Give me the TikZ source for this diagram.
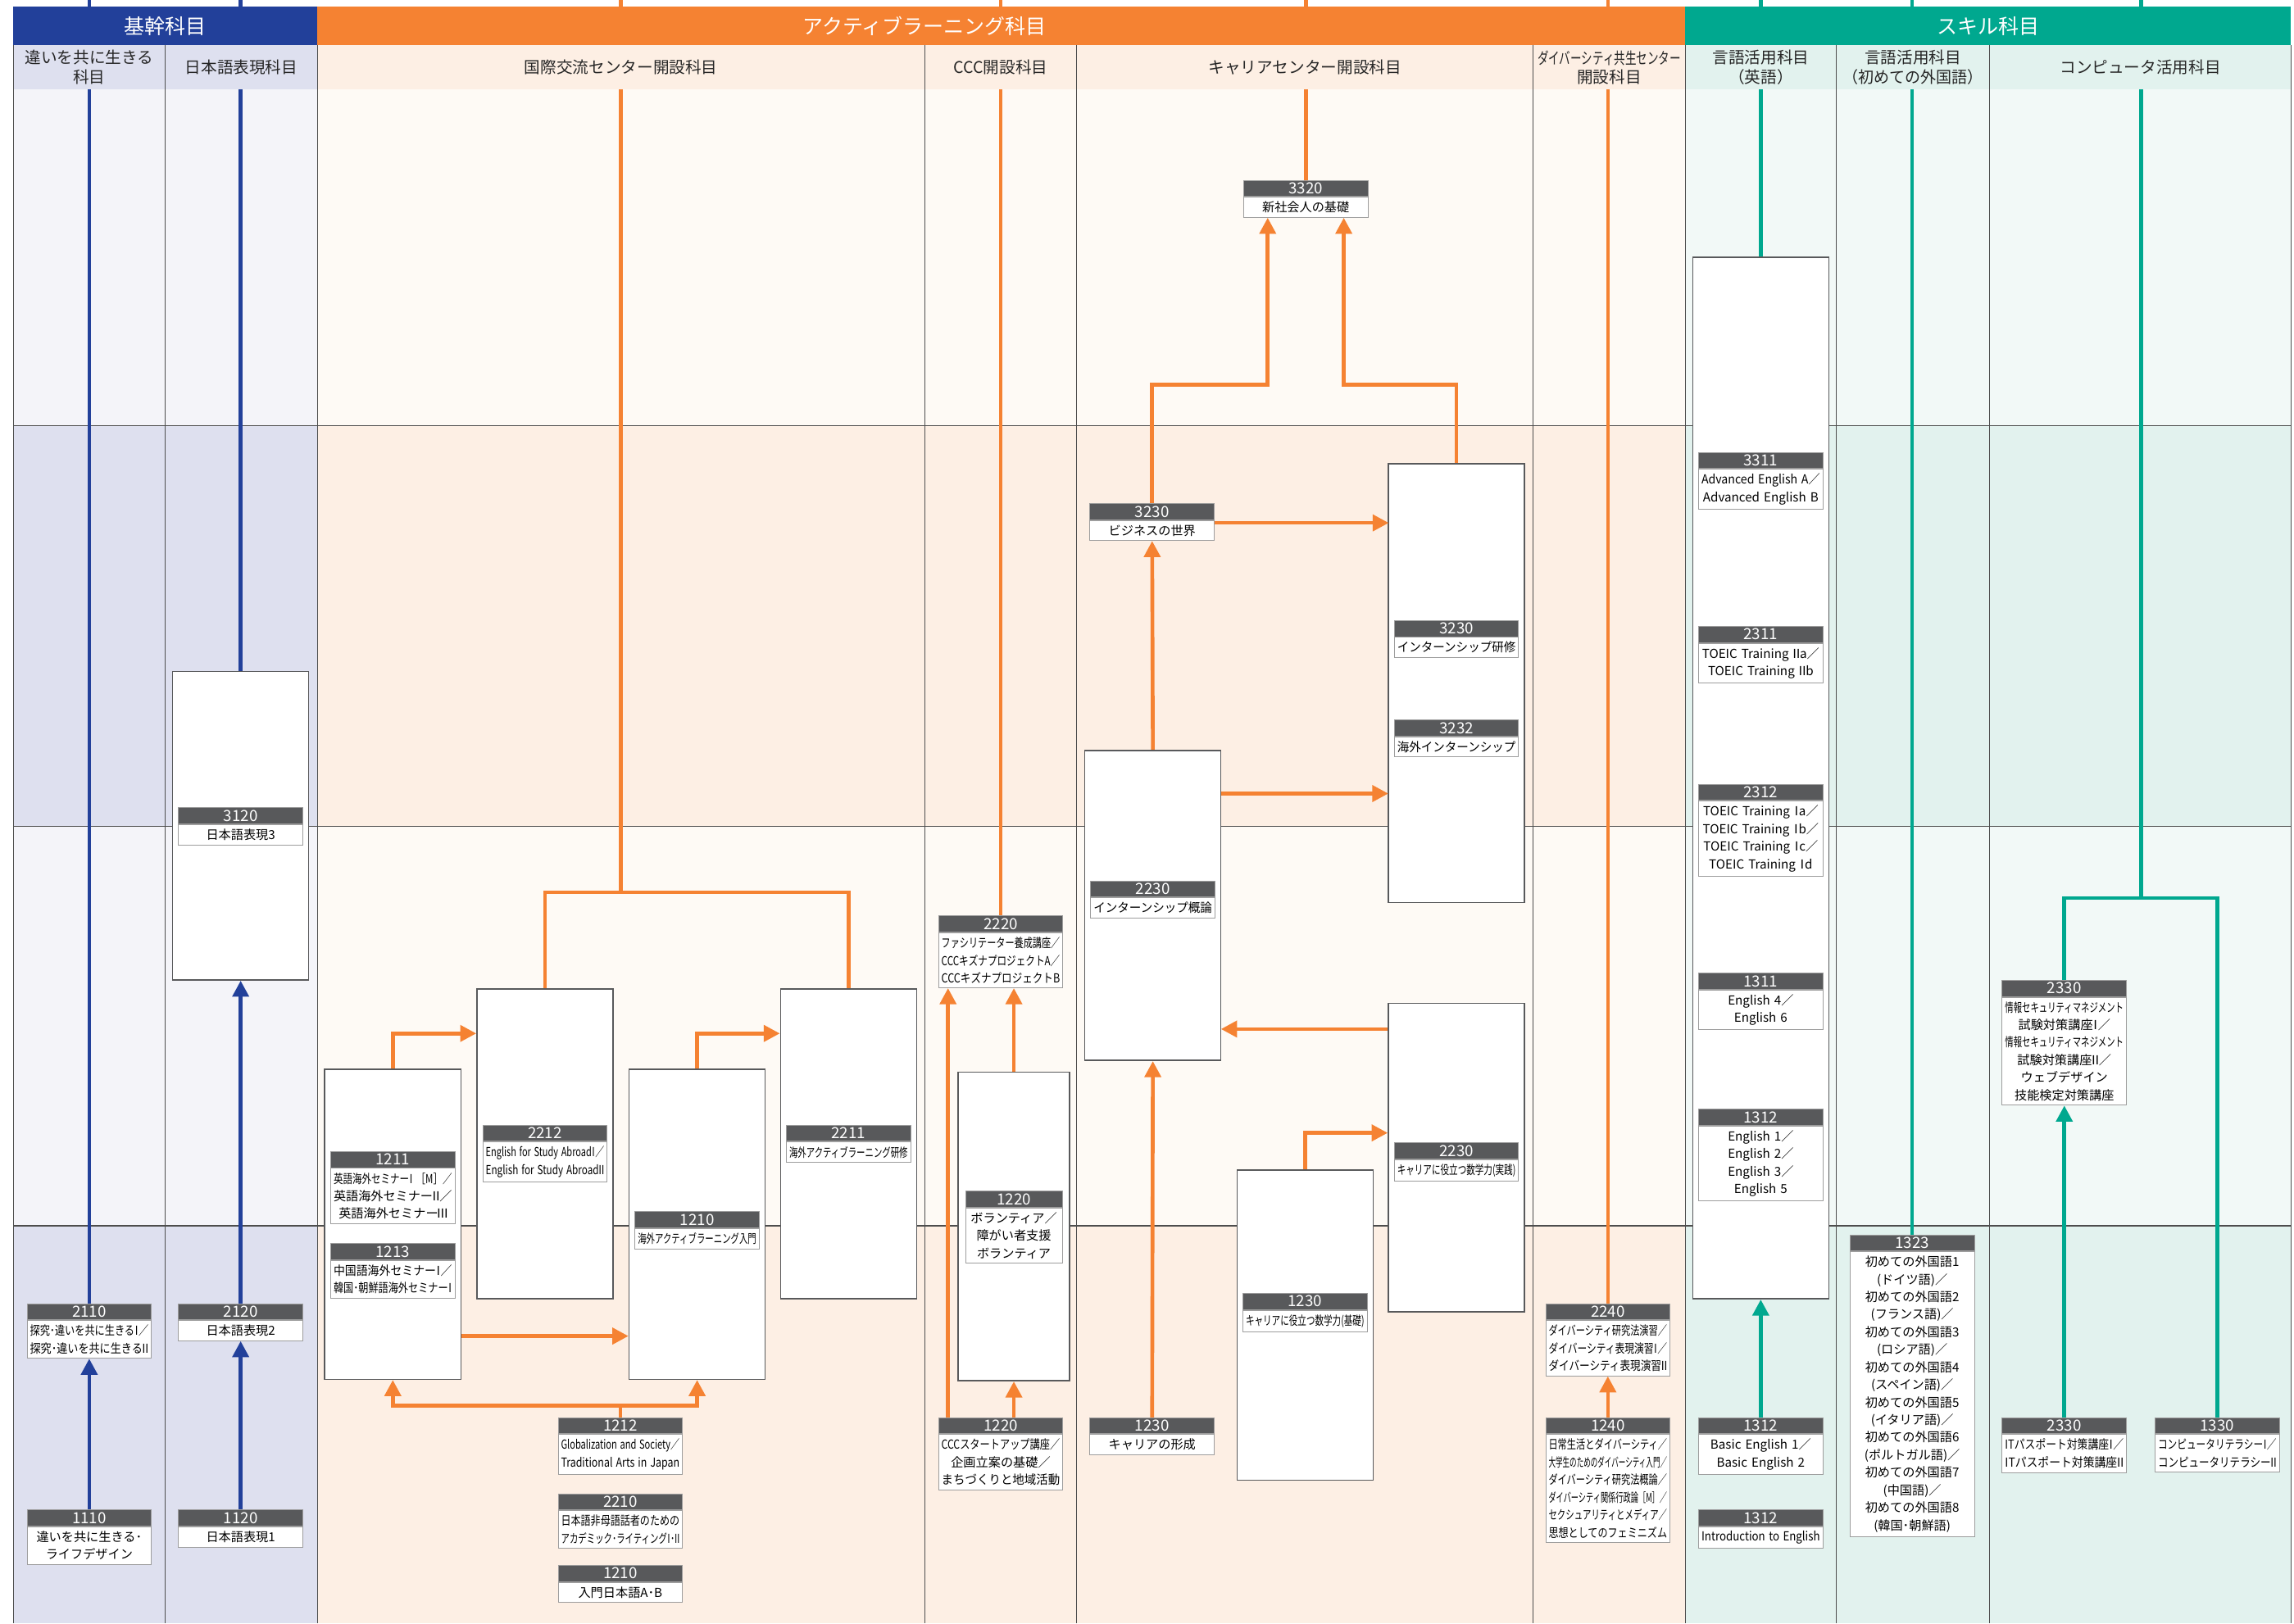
\documentclass[tikz,border=0pt]{standalone}
\usepackage{fontspec}
\setmainfont{Noto Sans CJK JP}
\usepackage{graphicx}
\usetikzlibrary{positioning,arrows.meta,calc}

\definecolor{kblue}{HTML}{22409A}
\definecolor{korange}{HTML}{F58232}
\definecolor{kteal}{HTML}{00A88F}
\definecolor{numgray}{HTML}{58595B}
\definecolor{boxgray}{HTML}{58595B}
\definecolor{lblgray}{HTML}{9D9D9D}
\definecolor{gridgray}{HTML}{4D4D4D}
\definecolor{kbD}{HTML}{DEE0EF}
\definecolor{kbL}{HTML}{F4F4F9}
\definecolor{orD}{HTML}{FDEFE4}
\definecolor{orL}{HTML}{FEFAF5}
\definecolor{tlD}{HTML}{E2F2EE}
\definecolor{tlL}{HTML}{F2F9F7}

\newsavebox\flbox
\newcommand\fl[2][81pt]{\sbox\flbox{#2}\ifdim\wd\flbox>#1\relax\resizebox{#1}{\height}{\usebox\flbox}\else\usebox\flbox\fi}
\newcommand\rI{\kern-.3em Ⅰ\kern-.3em}
\newcommand\rII{\kern-.22em Ⅱ\kern-.22em}
\newcommand\rIII{\kern-.15em Ⅲ\kern-.15em}

\begin{document}
\begin{tikzpicture}[x=1pt, y=-1pt,
    outer/.style={draw=boxgray, fill=white, line width=0.9pt, inner sep=0pt, minimum width=93pt, minimum height=212pt},
    num/.style={draw=lblgray, fill=numgray, text=white, line width=0.5pt, minimum width=85pt, minimum height=11pt, inner sep=0pt, anchor=north, font=\fontsize{10.5}{11}\selectfont},
    txt/.style={draw=lblgray, fill=white, line width=0.5pt, text width=82pt, align=center, inner xsep=1.5pt, inner ysep=3pt, font=\fontsize{8.5}{12}\selectfont},
    cat/.style={text=white, minimum height=26.5pt, inner sep=0pt, font=\fontsize{14}{14}\selectfont},
    sub/.style={text=black!85, align=center, inner sep=0pt, font=\fontsize{11}{13}\selectfont},
    kline/.style={line width=2.6pt, draw=kblue},
    oline/.style={line width=2.6pt, draw=korange},
    tline/.style={line width=2.6pt, draw=kteal},
    arr/.style={-{Triangle[width=11pt,length=11pt]}}
]
    \useasboundingbox (0,0) rectangle (1568,1110);
    \foreach \xa/\xb/\cl/\cd in {9/217/kbL/kbD, 217/1152/orL/orD, 1152/1566/tlL/tlD} {
        \fill[\cl] (\xa,61) rectangle (\xb,291);
        \fill[\cd] (\xa,291) rectangle (\xb,565);
        \fill[\cl] (\xa,565) rectangle (\xb,838);
        \fill[\cd] (\xa,838) rectangle (\xb,1110);
    }
    \foreach \gy in {291,565,838}
        \draw[gridgray, line width=0.7pt] (9,\gy) -- (1566,\gy);

    \node (bx3120) [outer, minimum height=211pt] at (164.5,564.5) {};
    \node (bxA) [outer] at (268.5,837) {};
    \node (bxB) [outer] at (372.5,782) {};
    \node (bxC) [outer] at (476.5,837) {};
    \node (bxD) [outer] at (580,782) {};
    \node (bxE) [outer, minimum width=76pt, minimum height=211pt] at (693,838.5) {};
    \node (bxF) [outer, minimum height=300pt] at (995.5,467) {};
    \node (bxG) [outer] at (788,619) {};
    \node (bxH) [outer, minimum height=211pt] at (995.5,791.5) {};
    \node (bxI) [outer] at (892,906) {};
    \node (bxJ) [outer, minimum height=712pt] at (1203.5,532) {};

    \node (n2110) [num] at (61,891) {2110};
    \node (t2110) [txt, below=0pt of n2110] {\fl{探究･違いを共に生きる\rI／}\\\fl{探究･違いを共に生きる\rII}};
    \node (n1110) [num] at (61,1032) {1110};
    \node (t1110) [txt, below=0pt of n1110] {違いを共に生きる･\\ライフデザイン};
    \node (n3120) [num] at (164.5,552) {3120};
    \node (t3120) [txt, below=0pt of n3120] {日本語表現3};
    \node (n2120) [num] at (164.5,891) {2120};
    \node (t2120) [txt, below=0pt of n2120] {日本語表現2};
    \node (n1120) [num] at (164.5,1032) {1120};
    \node (t1120) [txt, below=0pt of n1120] {日本語表現1};

    \node (n1211) [num] at (268.5,787) {1211};
    \node (t1211) [txt, below=0pt of n1211] {\fl{英語海外セミナー\rI\ ［M］／}\\\fl{英語海外セミナー\rII／}\\\fl{英語海外セミナー\rIII}};
    \node (n1213) [num] at (268.5,850) {1213};
    \node (t1213) [txt, below=0pt of n1213] {\fl{中国語海外セミナー\rI／}\\\fl{韓国･朝鮮語海外セミナー\rI}};
    \node (n2212) [num] at (372.5,769) {2212};
    \node (t2212) [txt, below=0pt of n2212] {\fl{English for Study Abroad\rI／}\\\fl{English for Study Abroad\rII}};
    \node (n1210a) [num] at (476.5,828) {1210};
    \node (t1210a) [txt, below=0pt of n1210a] {\fl{海外アクティブラーニング入門}};
    \node (n2211) [num] at (580,769) {2211};
    \node (t2211) [txt, below=0pt of n2211] {\fl{海外アクティブラーニング研修}};
    \node (n1212) [num] at (424,969) {1212};
    \node (t1212) [txt, below=0pt of n1212] {\fl{Globalization and Society／}\\\fl{Traditional Arts in Japan}};
    \node (n2210) [num] at (424,1021) {2210};
    \node (t2210) [txt, below=0pt of n2210] {\fl{日本語非母語話者のための}\\\fl{アカデミック･ライティング\rI･\rII}};
    \node (n1210b) [num] at (424,1070) {1210};
    \node (t1210b) [txt, below=0pt of n1210b] {入門日本語A･B};

    \node (n2220) [num] at (684,626) {2220};
    \node (t2220) [txt, below=0pt of n2220] {\fl{ファシリテーター養成講座／}\\\fl{CCCキズナプロジェクトA／}\\\fl{CCCキズナプロジェクトB}};
    \node (n1220a) [num, minimum width=66pt] at (693,814) {1220};
    \node (t1220a) [txt, text width=63pt, below=0pt of n1220a] {ボランティア／\\障がい者支援\\ボランティア};
    \node (n1220b) [num] at (684,969) {1220};
    \node (t1220b) [txt, below=0pt of n1220b] {\fl{CCCスタートアップ講座／}\\企画立案の基礎／\\\fl{まちづくりと地域活動}};

    \node (n3320) [num] at (892.5,123) {3320};
    \node (t3320) [txt, below=0pt of n3320] {新社会人の基礎};
    \node (n3230b) [num] at (787.5,344) {3230};
    \node (t3230b) [txt, below=0pt of n3230b] {ビジネスの世界};
    \node (n3230) [num] at (995.5,424) {3230};
    \node (t3230) [txt, below=0pt of n3230] {\fl{インターンシップ研修}};
    \node (n3232) [num] at (995.5,492) {3232};
    \node (t3232) [txt, below=0pt of n3232] {\fl{海外インターンシップ}};
    \node (n2230a) [num] at (788,602) {2230};
    \node (t2230a) [txt, below=0pt of n2230a] {\fl{インターンシップ概論}};
    \node (n2230b) [num] at (995.5,781) {2230};
    \node (t2230b) [txt, below=0pt of n2230b] {\fl{キャリアに役立つ数学力(実践)}};
    \node (n1230a) [num] at (892,884) {1230};
    \node (t1230a) [txt, below=0pt of n1230a] {\fl{キャリアに役立つ数学力(基礎)}};
    \node (n1230b) [num] at (787.5,969) {1230};
    \node (t1230b) [txt, below=0pt of n1230b] {キャリアの形成};

    \node (n2240) [num] at (1099,891) {2240};
    \node (t2240) [txt, below=0pt of n2240] {\fl{ダイバーシティ研究法演習／}\\\fl{ダイバーシティ表現演習\rI／}\\\fl{ダイバーシティ表現演習\rII}};
    \node (n1240) [num] at (1099,969) {1240};
    \node (t1240) [txt, below=0pt of n1240] {\fl{日常生活とダイバーシティ／}\\\fl{大学生のためのダイバーシティ入門／}\\\fl{ダイバーシティ研究法概論／}\\\fl{ダイバーシティ関係行政論［M］／}\\\fl{セクシュアリティとメディア／}\\\fl{思想としてのフェミニズム}};

    \node (n3311) [num] at (1203.5,309) {3311};
    \node (t3311) [txt, below=0pt of n3311] {\fl{Advanced English A／}\\\fl{Advanced English B}};
    \node (n2311) [num] at (1203.5,428) {2311};
    \node (t2311) [txt, below=0pt of n2311] {\fl{TOEIC Training \rII a／}\\\fl{TOEIC Training \rII b}};
    \node (n2312) [num] at (1203.5,536) {2312};
    \node (t2312) [txt, below=0pt of n2312] {\fl{TOEIC Training \rI a／}\\\fl{TOEIC Training \rI b／}\\\fl{TOEIC Training \rI c／}\\\fl{TOEIC Training \rI d}};
    \node (n1311) [num] at (1203.5,665) {1311};
    \node (t1311) [txt, below=0pt of n1311] {English 4／\\English 6};
    \node (n1312a) [num] at (1203.5,758) {1312};
    \node (t1312a) [txt, below=0pt of n1312a] {English 1／\\English 2／\\English 3／\\English 5};
    \node (n1312c) [num] at (1203.5,969) {1312};
    \node (t1312c) [txt, below=0pt of n1312c] {\fl{Basic English 1／}\\\fl{Basic English 2}};
    \node (n1312b) [num] at (1203.5,1032) {1312};
    \node (t1312b) [txt, below=0pt of n1312b] {\fl{Introduction to English}};

    \node (n1323) [num] at (1307,844) {1323};
    \node (t1323) [txt, below=0pt of n1323] {初めての外国語1\\(ドイツ語)／\\初めての外国語2\\(フランス語)／\\初めての外国語3\\(ロシア語)／\\初めての外国語4\\(スペイン語)／\\初めての外国語5\\(イタリア語)／\\初めての外国語6\\(ポルトガル語)／\\初めての外国語7\\(中国語)／\\初めての外国語8\\(韓国･朝鮮語)};

    \node (n2330a) [num] at (1411,670) {2330};
    \node (t2330a) [txt, below=0pt of n2330a] {\fl{情報セキュリティマネジメント}\\試験対策講座\rI／\\\fl{情報セキュリティマネジメント}\\試験対策講座\rII／\\ウェブデザイン\\技能検定対策講座};
    \node (n2330b) [num] at (1411,969) {2330};
    \node (t2330b) [txt, below=0pt of n2330b] {\fl{ITパスポート対策講座\rI／}\\\fl{ITパスポート対策講座\rII}};
    \node (n1330) [num] at (1515.5,969) {1330};
    \node (t1330) [txt, below=0pt of n1330] {\fl{コンピュータリテラシー\rI／}\\\fl{コンピュータリテラシー\rII}};

    \coordinate (top1) at (61,0);
    \coordinate (top2) at (164.5,0);
    \coordinate (top3) at (424.5,0);
    \coordinate (top4) at (684,0);
    \coordinate (top5) at (892.5,0);
    \coordinate (top6) at (1099,0);
    \coordinate (top7) at (1203.5,0);
    \coordinate (top8) at (1307,0);
    \coordinate (top9) at (1463.5,0);
    \coordinate (sp3) at (424.5,610);
    \coordinate (sp4) at (424,961);
    \coordinate (sp9) at (1463.5,614);

    \draw[kline] (top1) -- (n2110.north);
    \draw[kline, arr] (n1110.north) -- (t2110.south);
    \draw[kline] (top2) -- (bx3120.north);
    \draw[kline, arr] (n2120.north) -- (bx3120.south);
    \draw[kline, arr] (n1120.north) -- (t2120.south);

    \draw[oline] (top3) -- (sp3) -| (bxB.north);
    \draw[oline] (sp3) -| (bxD.north);
    \draw[oline, arr] (bxA.north) |- ($(bxB.north west)+(0,31)$);
    \draw[oline, arr] (bxC.north) |- ($(bxD.north west)+(0,31)$);
    \draw[oline, arr] ($(bxA.south east)+(0,-30)$) -- ($(bxC.south west)+(0,-30)$);
    \draw[oline] (n1212.north) -- (sp4);
    \draw[oline, arr] (sp4) -| (bxA.south);
    \draw[oline, arr] (sp4) -| (bxC.south);

    \draw[oline] (top4) -- (n2220.north);
    \draw[oline, arr] (bxE.north) -- (bxE.north |- t2220.south);
    \draw[oline, arr] ($(n1220b.north)+(-36,0)$) -- ($(t2220.south)+(-36,0)$);
    \draw[oline, arr] (n1220b.north -| bxE.north) -- (bxE.south);

    \draw[oline] (top5) -- (n3320.north);
    \draw[oline, arr] (n1230b.north) -- (bxG.south);
    \draw[oline, arr] (bxG.north) -- (t3230b.south);
    \draw[oline, arr] (n3230b.north) |- ($(t3320.south)+(-26,114)$) -- ($(t3320.south)+(-26,0)$);
    \draw[oline, arr] (bxF.north) |- ($(t3320.south)+(26,114)$) -- ($(t3320.south)+(26,0)$);
    \draw[oline, arr] ($(t3230b.north east)+(0,2)$) -- ($(t3230b.north east)+(119,2)$);
    \draw[oline, arr] ($(bxG.north east)+(0,30)$) -- ($(bxG.north east)+(114,30)$);
    \draw[oline, arr] ($(bxH.north west)+(0,18)$) -- ($(bxH.north west)+(-114,18)$);
    \draw[oline, arr] (bxI.north) |- ($(bxH.north west)+(0,89)$);

    \draw[oline] (top6) -- (n2240.north);
    \draw[oline, arr] (n1240.north) -- (t2240.south);

    \draw[tline] (top7) -- (bxJ.north);
    \draw[tline, arr] (n1312c.north) -- (bxJ.south);
    \draw[tline] (top8) -- (n1323.north);
    \draw[tline] (top9) -- (sp9) -| (n2330a.north);
    \draw[tline] (sp9) -| (n1330.north);
    \draw[tline, arr] (n2330b.north) -- (t2330a.south);

    \fill[kbD] (9,31) rectangle (217,61);
    \fill[orD] (217,31) rectangle (1152,61);
    \fill[tlD] (1152,31) rectangle (1566,61);
    \node (hkikan) [cat, fill=kblue, minimum width=208pt] at (113,17.75) {基幹科目};
    \node (hactive) [cat, fill=korange, minimum width=935pt] at (684.5,17.75) {};
    \node (hactivet) [cat] at (632,17.75) {アクティブラーニング科目};
    \node (hskill) [cat, fill=kteal, minimum width=414pt] at (1359,17.75) {スキル科目};

    \node (s1) [sub] at (61,46) {違いを共に生きる\\科目};
    \node (s2) [sub] at (165,46) {日本語表現科目};
    \node (s3) [sub] at (424.5,46) {国際交流センター開設科目};
    \node (s4) [sub] at (684,46) {CCC開設科目};
    \node (s5) [sub] at (892,46) {キャリアセンター開設科目};
    \node (s6) [sub] at (1100,46) {\fl[98pt]{ダイバーシティ共生センター}\\開設科目};
    \node (s7) [sub] at (1203.5,46) {言語活用科目\\（英語）};
    \node (s8) [sub] at (1307.5,46) {言語活用科目\\\fl[96pt]{（初めての外国語）}};
    \node (s9) [sub] at (1463,46) {コンピュータ活用科目};

    \foreach \gx in {9,113,217,632,736,1048,1152,1255,1360,1566}
        \draw[gridgray, line width=0.6pt] (\gx,31) -- (\gx,1110);
\end{tikzpicture}
\end{document}
